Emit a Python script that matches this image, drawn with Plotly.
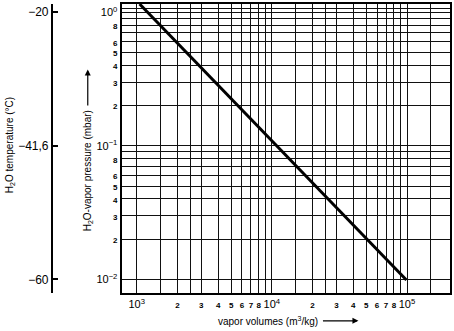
import plotly.graph_objects as go

# ---- data ----
vapor_volume = [1050, 99000]          # m^3/kg
vapor_pressure = [1.153, 0.0099]      # mbar

# labelled gridlines / ticks
x_ticks = [1e3, 2e3, 3e3, 4e3, 5e3, 6e3, 7e3, 8e3,
           1e4, 2e4, 3e4, 4e4, 5e4, 6e4, 7e4, 8e4, 1e5]
x_labels = ["10^3", "2", "3", "4", "5", "6", "7", "8",
            "10^4", "2", "3", "4", "5", "6", "7", "8", "10^5"]
# unlabelled gridlines
x_minor = [1.5e3, 2.5e3, 9e3, 1.5e4, 2.5e4, 9e4, 1.5e5]

y_ticks = [1.0, 0.8, 0.6, 0.5, 0.4, 0.3, 0.2,
           0.1, 0.08, 0.06, 0.05, 0.04, 0.03, 0.02, 0.01]
y_labels = ["10^0", "8", "6", "5", "4", "3", "2",
            "10^-1", "8", "6", "5", "4", "3", "2", "10^-2"]
y_minor = [1.07, 0.9, 0.7, 0.09, 0.07]

temp_ticks = [1.0, 0.1, 0.01]
temp_labels = ["\u221220", "\u221241,6", "\u221260"]

FONT = "Liberation Sans Narrow, Arial Narrow, Liberation Sans, Arial, sans-serif"


def fmt(lbl):
    if lbl.startswith("10^"):
        e = lbl[3:].replace("-", "\u2212")
        return "10<sup>" + e + "</sup>"
    return "<span style='font-size:8px'><b>" + lbl + "</b></span>"


fig = go.Figure()
fig.add_trace(go.Scatter(x=vapor_volume, y=vapor_pressure, mode="lines",
                         line=dict(color="black", width=3),
                         showlegend=False, hoverinfo="skip"))
fig.add_trace(go.Scatter(x=vapor_volume, y=vapor_pressure, mode="lines",
                         line=dict(color="rgba(0,0,0,0)", width=0),
                         yaxis="y2", showlegend=False, hoverinfo="skip"))

W, H = 454, 331
ml, mr, mt, mb = 40, 2, 2, 38
pw = W - ml - mr
ph = H - mt - mb


def px(xp):
    return (xp - ml) / pw


def py(yp):
    return 1 - (yp - mt) / ph


yrange = [-2.102, 0.062]
GRID = dict(showgrid=True, gridcolor="#111", gridwidth=1.3)

fig.update_layout(
    width=W, height=H,
    margin=dict(l=ml, r=mr, t=mt, b=mb),
    paper_bgcolor="white", plot_bgcolor="white",
    font=dict(family=FONT, size=12, color="black"),
    xaxis=dict(type="log", range=[2.888, 5.318], domain=[px(122), 1],
               tickmode="array", tickvals=x_ticks,
               ticktext=[fmt(t) for t in x_labels], tickangle=0,
               minor=dict(tickmode="array", tickvals=x_minor, ticks="",
                          **GRID),
               showline=True, linecolor="black", linewidth=2, mirror=True,
               ticks="", tickfont=dict(size=11, family=FONT),
               zeroline=False, **GRID),
    yaxis=dict(type="log", range=yrange, domain=[0, 1], anchor="x",
               tickmode="array", tickvals=y_ticks,
               ticktext=[fmt(t) for t in y_labels],
               minor=dict(tickmode="array", tickvals=y_minor, ticks="",
                          **GRID),
               showline=True, linecolor="black", linewidth=2, mirror=True,
               ticks="", tickfont=dict(size=11, family=FONT),
               zeroline=False, **GRID),
    yaxis2=dict(type="log", range=yrange, overlaying="y", anchor="free",
                position=px(52), side="left",
                tickmode="array", tickvals=temp_ticks, ticktext=temp_labels,
                ticks="inside", ticklen=5, tickwidth=1.5, tickcolor="black",
                showline=True, linecolor="black", linewidth=2,
                showgrid=False, zeroline=False,
                tickfont=dict(size=12, family=FONT)),
    annotations=[
        dict(text="H<sub>2</sub>O temperature (\u00b0C)", textangle=-90,
             x=px(10), y=py(144), xref="paper", yref="paper",
             xanchor="center", yanchor="middle",
             showarrow=False, font=dict(size=10, family=FONT)),
        dict(text="H<sub>2</sub>O-vapor pressure (mbar)", textangle=-90,
             x=px(88), y=py(68), xref="paper", yref="paper",
             showarrow=True, ax=0, ay=101, borderpad=4,
             arrowhead=2, arrowsize=1, arrowwidth=1.2, arrowcolor="black",
             font=dict(size=10, family=FONT)),
        dict(text="vapor volumes (m<sup>3</sup>/kg)",
             x=px(360), y=py(321), xref="paper", yref="paper",
             showarrow=True, ax=-90, ay=0, borderpad=4,
             arrowhead=2, arrowsize=1, arrowwidth=1.2, arrowcolor="black",
             font=dict(size=10, family=FONT)),
    ],
)

fig.write_html("out.html")
